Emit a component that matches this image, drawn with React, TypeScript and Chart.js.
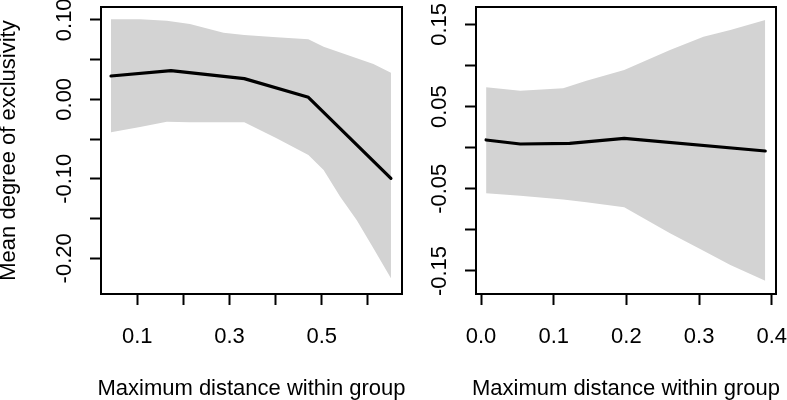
import React, { useEffect, useRef } from 'react';
import { Chart, registerables } from 'chart.js';

Chart.register(...registerables);

const FONT_FAMILY = "'Liberation Sans', Arial, Helvetica, sans-serif";
const FONT_SIZE = 22;

// ---------- Left panel ----------
const leftLineX = [0.043, 0.173, 0.332, 0.471, 0.650];
const leftLineY = [0.0293, 0.036, 0.026, 0.0025, -0.0994];

const leftBandX = [0.043, 0.106, 0.164, 0.214, 0.287, 0.332, 0.402, 0.471, 0.504, 0.540, 0.576, 0.612, 0.650];
const leftBandUpper = [0.1006, 0.1006, 0.0989, 0.0947, 0.0838, 0.0809, 0.078, 0.0755, 0.0662, 0.059, 0.0516, 0.0444, 0.0335];
const leftBandLower = [-0.0415, -0.0348, -0.0282, -0.029, -0.029, -0.029, -0.049, -0.070, -0.089, -0.1225, -0.152, -0.1875, -0.225];

const leftXTicks = [0.1, 0.2, 0.3, 0.4, 0.5, 0.6];
const leftXLabels = ['0.1', '', '0.3', '', '0.5', ''];
const leftYTicks = [-0.2, -0.15, -0.1, -0.05, 0, 0.05, 0.1];
const leftYLabels = ['-0.20', '', '-0.10', '', '0.00', '', '0.10'];

// ---------- Right panel ----------
const rightLineX = [0.007, 0.054, 0.122, 0.197, 0.391];
const rightLineY = [0.0094, 0.0045, 0.0053, 0.0114, -0.004];

const rightBandX = [0.007, 0.054, 0.113, 0.145, 0.197, 0.26, 0.306, 0.343, 0.391];
const rightBandUpper = [0.0735, 0.0693, 0.0722, 0.0815, 0.0945, 0.1189, 0.135, 0.1432, 0.1555];
const rightBandLower = [-0.0555, -0.0584, -0.063, -0.0663, -0.0725, -0.1041, -0.1253, -0.1426, -0.162];

const rightXTicks = [0, 0.1, 0.2, 0.3, 0.4];
const rightXLabels = ['0.0', '0.1', '0.2', '0.3', '0.4'];
const rightYTicks = [-0.15, -0.1, -0.05, 0, 0.05, 0.1, 0.15];
const rightYLabels = ['-0.15', '', '-0.05', '', '0.05', '', '0.15'];

const X_TITLE = 'Maximum distance within group';
const Y_TITLE = 'Mean degree of exclusivity';

const zip = (xs: number[], ys: number[]) => xs.map((x, i) => ({ x, y: ys[i] }));
const labelFor = (ticks: number[], labels: string[], v: number) => {
  const i = ticks.findIndex((t) => Math.abs(t - v) < 1e-9);
  return i >= 0 ? labels[i] : '';
};

const boxPlugin = {
  id: 'rbox',
  afterDatasetsDraw(chart: any) {
    const { ctx, chartArea } = chart;
    ctx.save();
    ctx.strokeStyle = '#000';
    ctx.lineWidth = 2;
    ctx.strokeRect(chartArea.left, chartArea.top, chartArea.right - chartArea.left, chartArea.bottom - chartArea.top);
    ctx.restore();
  },
};

// Rotated y tick labels (R style) and the x-axis title drawn without width compression
const axisTextPlugin = {
  id: 'raxistext',
  afterDraw(chart: any, _args: any, opts: any) {
    const { ctx, chartArea } = chart;
    const ys = chart.scales.y;
    ctx.save();
    ctx.fillStyle = '#000';
    ctx.font = `${FONT_SIZE}px ${FONT_FAMILY}`;
    ctx.textAlign = 'center';
    ctx.textBaseline = 'middle';
    ys.ticks.forEach((t: any) => {
      const lab = labelFor(opts.ticks, opts.labels, t.value);
      if (!lab) return;
      const py = ys.getPixelForValue(t.value);
      ctx.save();
      ctx.translate(chartArea.left - opts.offset, py);
      ctx.rotate(-Math.PI / 2);
      ctx.fillText(lab, 0, 0);
      ctx.restore();
    });
    ctx.textBaseline = 'alphabetic';
    ctx.fillText(opts.xTitle, (chartArea.left + chartArea.right) / 2, opts.xTitleBaseline);
    ctx.restore();
  },
};

type PanelProps = {
  width: number;
  yWidth: number;
  padRight: number;
  xmin: number;
  xmax: number;
  ymin: number;
  ymax: number;
  lineX: number[];
  lineY: number[];
  bandX: number[];
  bandUpper: number[];
  bandLower: number[];
  xTicks: number[];
  xLabels: string[];
  yTicks: number[];
  yLabels: string[];
  yTitle: string | null;
};

function Panel(p: PanelProps) {
  const ref = useRef<HTMLCanvasElement | null>(null);
  useEffect(() => {
    if (!ref.current) return;
    const font = { family: FONT_FAMILY, size: FONT_SIZE };
    const chart = new Chart(ref.current, {
      type: 'line',
      data: {
        datasets: [
          {
            data: zip(p.lineX, p.lineY),
            borderColor: '#000',
            borderWidth: 3.2,
            borderCapStyle: 'round',
            borderJoinStyle: 'round',
            pointRadius: 0,
            fill: false,
            tension: 0,
            order: 0,
          },
          {
            data: zip(p.bandX, p.bandUpper),
            borderWidth: 0,
            borderColor: 'rgba(0,0,0,0)',
            backgroundColor: '#d3d3d3',
            pointRadius: 0,
            fill: '+1',
            tension: 0,
            order: 1,
          },
          {
            data: zip(p.bandX, p.bandLower),
            borderWidth: 0,
            borderColor: 'rgba(0,0,0,0)',
            pointRadius: 0,
            fill: false,
            tension: 0,
            order: 2,
          },
        ],
      } as any,
      options: {
        responsive: false,
        maintainAspectRatio: false,
        animation: false,
        layout: { padding: { left: 0, right: p.padRight, top: 7, bottom: 0 } },
        plugins: {
          legend: { display: false },
          tooltip: { enabled: false },
          raxistext: { ticks: p.yTicks, labels: p.yLabels, offset: 36, xTitle: X_TITLE, xTitleBaseline: 395 },
        } as any,
        scales: {
          x: {
            type: 'linear',
            position: 'bottom',
            min: p.xmin,
            max: p.xmax,
            afterBuildTicks: (s: any) => {
              s.ticks = p.xTicks.map((v) => ({ value: v }));
            },
            afterFit: (s: any) => {
              s.height = 106;
              s.paddingLeft = 0;
              s.paddingRight = 0;
            },
            border: { display: false },
            grid: {
              drawOnChartArea: false,
              drawTicks: true,
              tickLength: 11,
              tickWidth: 2,
              tickColor: '#000',
            },
            ticks: {
              autoSkip: false,
              maxRotation: 0,
              minRotation: 0,
              padding: 19,
              color: '#000',
              font,
              callback: (v: any) => labelFor(p.xTicks, p.xLabels, Number(v)),
            },
            title: { display: false },
          },
          y: {
            type: 'linear',
            position: 'left',
            min: p.ymin,
            max: p.ymax,
            afterBuildTicks: (s: any) => {
              s.ticks = p.yTicks.map((v) => ({ value: v }));
            },
            afterFit: (s: any) => {
              s.width = p.yWidth;
              s.paddingTop = 0;
              s.paddingBottom = 0;
            },
            border: { display: false },
            grid: {
              drawOnChartArea: false,
              drawTicks: true,
              tickLength: 11,
              tickWidth: 2,
              tickColor: '#000',
            },
            ticks: { display: false },
            title: {
              display: !!p.yTitle,
              text: p.yTitle || '',
              color: '#000',
              font: { ...font, lineHeight: 0.8 },
              padding: { top: 0, bottom: 0 },
            },
          },
        },
      } as any,
      plugins: [boxPlugin, axisTextPlugin],
    });
    return () => chart.destroy();
  }, []);
  return <canvas ref={ref} width={p.width} height={400} style={{ display: 'block', width: p.width, height: 400 }} />;
}

export default function App() {
  return (
    <div style={{ position: 'fixed', left: 0, top: 0, width: 787, height: 400, background: '#fff' }}>
      <div style={{ position: 'absolute', left: 0, top: 0 }}>
        <Panel
          width={415}
          yWidth={101}
          padRight={13}
          xmin={0.0213}
          xmax={0.674}
          ymin={-0.2449}
          ymax={0.1161}
          lineX={leftLineX}
          lineY={leftLineY}
          bandX={leftBandX}
          bandUpper={leftBandUpper}
          bandLower={leftBandLower}
          xTicks={leftXTicks}
          xLabels={leftXLabels}
          yTicks={leftYTicks}
          yLabels={leftYLabels}
          yTitle={Y_TITLE}
        />
      </div>
      <div style={{ position: 'absolute', left: 415, top: 0 }}>
        <Panel
          width={372}
          yWidth={61}
          padRight={11}
          xmin={-0.0069}
          xmax={0.4058}
          ymin={-0.178}
          ymax={0.1712}
          lineX={rightLineX}
          lineY={rightLineY}
          bandX={rightBandX}
          bandUpper={rightBandUpper}
          bandLower={rightBandLower}
          xTicks={rightXTicks}
          xLabels={rightXLabels}
          yTicks={rightYTicks}
          yLabels={rightYLabels}
          yTitle={null}
        />
      </div>
    </div>
  );
}
